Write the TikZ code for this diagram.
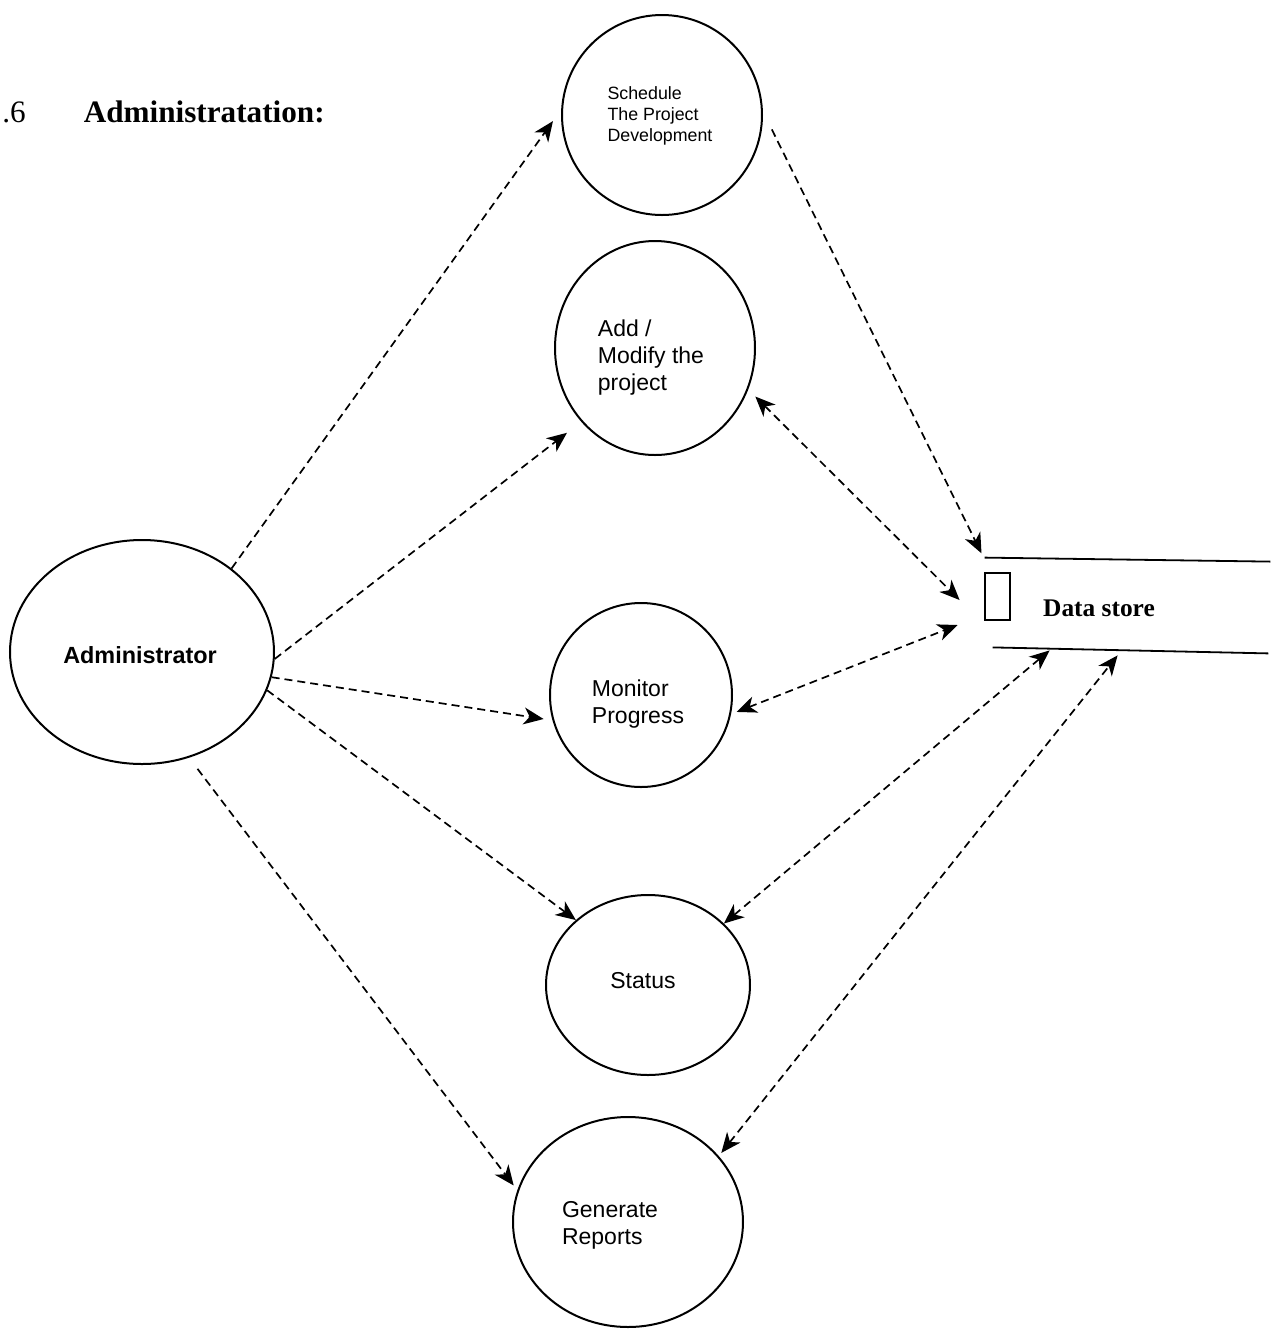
\documentclass[tikz,border=0pt]{standalone}
\usepackage{fontspec}
\setmainfont{Liberation Serif}
\setsansfont{Liberation Sans}
\usetikzlibrary{shapes.geometric,arrows.meta,calc}
\begin{document}
\begin{tikzpicture}[x=0.5pt,y=-0.5pt,
  ah/.tip={Stealth[length=10pt,width=8.5pt,inset=3pt]},
  proc/.style={draw,ellipse,line width=1pt,inner sep=0pt},
  lbl/.style={font=\sffamily\fontsize{11.5}{13.5}\selectfont,align=left,inner sep=0pt},
  flow/.style={dash pattern=on 4pt off 2.5pt,line width=0.85pt,-ah},
  both/.style={dash pattern=on 4pt off 2.5pt,line width=0.85pt,ah-ah},
  storeline/.style={line width=0.9pt}
]
\useasboundingbox (0,0) rectangle (1278,1330);

% heading
\node[anchor=base west,inner sep=0pt,font=\fontsize{15.6}{18}\selectfont] (title) at (2,122)
  {.6\hspace{29pt}\textbf{Administratation:}};

% processes
\node[proc,minimum width=100pt,minimum height=100pt] (sched) at (662,115) {};
\node[proc,minimum width=100pt,minimum height=107pt] (addmod) at (655,348) {};
\node[proc,minimum width=132pt,minimum height=112pt] (admin) at (142,652) {};
\node[proc,minimum width=91pt,minimum height=92pt] (monitor) at (641,695) {};
\node[proc,minimum width=102pt,minimum height=90pt] (status) at (648,985) {};
\node[proc,minimum width=115pt,minimum height=105pt] (report) at (628,1222) {};

% process labels
\node[font=\sffamily\fontsize{8.9}{10.5}\selectfont,align=left,inner sep=0pt] (schedtxt) at (660,116)
  {Schedule\\The Project\\Development};
\node[lbl] (addtxt) at (651,358) {Add /\\Modify the\\project};
\node[lbl] (montxt) at (638,704) {Monitor\\Progress};
\node[lbl] (stattxt) at (643,981) {Status};
\node[lbl] (reptxt) at (610,1225) {Generate\\Reports};
\node[lbl,font=\sffamily\bfseries\fontsize{11.7}{14}\selectfont] (admintxt) at (140,655) {Administrator};

% data store
\node[minimum width=142.5pt,minimum height=45pt,inner sep=0pt] (ds) at (1127.5,605) {};
\draw[storeline] ($(ds.north west)+(0,-2)$) -- ($(ds.north east)+(0,2)$);
\draw[storeline] ($(ds.south west)+(8,-3)$) -- ($(ds.south east)+(-2,3)$);
\node[draw,line width=0.9pt,minimum width=12.5pt,minimum height=23.5pt,inner sep=0pt] (dsmark) at (997.5,596.5) {};
\node[font=\bfseries\fontsize{12.7}{15}\selectfont,inner sep=0pt] (dstext) at (1099,608) {Data store};

% flows from the administrator
\draw[flow,shorten >=7pt] (admin.43) -- (sched.177);
\draw[flow,shorten >=9pt] (admin.-3) -- (addmod.225);
\draw[flow,shorten >=4.5pt] (admin.-11) -- (monitor.196);
\draw[flow] (admin.-17) -- (status.138);
\draw[flow,shorten <=7pt,shorten >=3pt] (admin.-66) -- (report.164);

% flows to and from the data store
\draw[flow,shorten <=10pt,shorten >=3.5pt] (sched.2) -- (ds.north west);
\draw[both,shorten <=5pt] (addmod.-24) -- ($(ds.west)+(-25,-5)$);
\draw[both,shorten <=3pt] (monitor.-12) -- ($(ds.west)+(-27,20)$);
\draw[both] (status.39) -- ($(ds.south west)+(65,0)$);
\draw[both,shorten <=2pt] (report.36) -- ($(ds.south west)+(133,5)$);
\end{tikzpicture}
\end{document}
